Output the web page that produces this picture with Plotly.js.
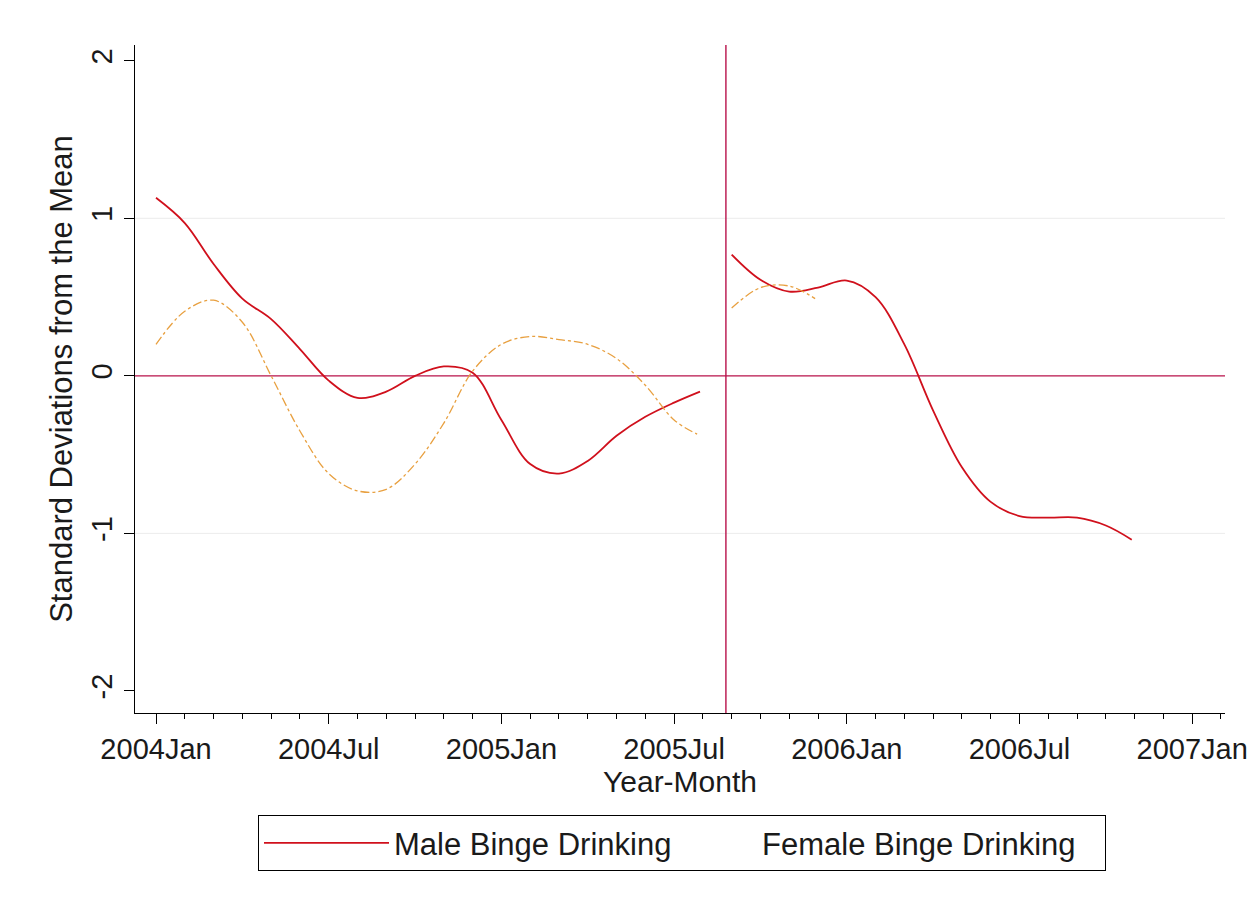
<!DOCTYPE html>
<html>
<head>
<meta charset="utf-8">
<script src="https://cdn.plot.ly/plotly-3.0.1.min.js"></script>
<style>html,body{margin:0;padding:0;background:#fff;}#chart{width:1257px;height:909px;}</style>
</head>
<body>
<div id="chart"></div>
<script>
// Month index: 0 = 2004Jan
const maleMonths1 = [0,1,2,3,4,5,6,7,8,9,10,11,12,13,14,15,16,17,18,18.9];
const maleValues1 = [1.13,0.97,0.71,0.49,0.36,0.17,-0.03,-0.14,-0.10,0.00,0.06,0.02,-0.28,-0.56,-0.62,-0.54,-0.38,-0.26,-0.17,-0.10];
const maleMonths2 = [20,21,22,23,24,25,26,27,28,29,30,31,32,33,33.9];
const maleValues2 = [0.77,0.61,0.535,0.56,0.605,0.50,0.20,-0.22,-0.58,-0.80,-0.89,-0.90,-0.90,-0.95,-1.04];
const femaleMonths1 = [0,1,2,3,4,5,6,7,8,9,10,11,12,13,14,15,16,17,18,18.8];
const femaleValues1 = [0.20,0.41,0.48,0.34,0.00,-0.35,-0.62,-0.73,-0.72,-0.56,-0.30,0.03,0.20,0.25,0.23,0.20,0.11,-0.06,-0.28,-0.37];
const femaleMonths2 = [20,21,22,22.9];
const femaleValues2 = [0.43,0.56,0.57,0.49];
const breakMonth = 19.8;
const xTickVals = [0,6,12,18,24,30,36];
const xTickText = ["2004Jan","2004Jul","2005Jan","2005Jul","2006Jan","2006Jul","2007Jan"];
const yTickVals = [-2,-1,0,1,2];
const seriesNames = ['Male Binge Drinking', 'Female Binge Drinking'];

const maleColor = '#d0101c';
const femaleColor = '#e8a040';
const refColor = '#b8124a';

function seg(x, y, name, color, dash, show, lw) {
  return {x: x, y: y, type: 'scatter', mode: 'lines', name: name, showlegend: show,
    legendgroup: name, legendwidth: lw,
    line: {color: color, width: dash === 'solid' ? 1.8 : 1.3, dash: dash, shape: 'spline', smoothing: 1}};
}
const traces = [
  seg(maleMonths1, maleValues1, seriesNames[0], maleColor, 'solid', true, 228),
  seg(maleMonths2, maleValues2, seriesNames[0], maleColor, 'solid', false),
  seg(femaleMonths1, femaleValues1, seriesNames[1], femaleColor, 'dashdot', false),
  seg(femaleMonths2, femaleValues2, seriesNames[1], femaleColor, 'dashdot', false),
  // legend entry for female (the reference legend shows no visible sample for it)
  {x: [null], y: [null], type: 'scatter', mode: 'lines', name: seriesNames[1], showlegend: true,
   legendgroup: seriesNames[1], legendwidth: 338, line: {color: 'rgba(0,0,0,0)', width: 1}}
];

const fam = 'Liberation Sans, Arial, sans-serif';
const tickFont = {family: fam, size: 29, color: '#1a1a1a'};
const titleFont = {family: fam, size: 30, color: '#1a1a1a'};
const yTitleFont = {family: fam, size: 31, color: '#1a1a1a'};
const legendFont = {family: fam, size: 31, color: '#1a1a1a'};
const layout = {
  width: 1257, height: 909,
  paper_bgcolor: '#fff', plot_bgcolor: '#fff',
  margin: {l: 135, r: 32, t: 45, b: 196},
  font: titleFont,
  showlegend: true,
  legend: {orientation: 'h', x: (258 - 135) / 1090, xanchor: 'left', y: -0.153, yanchor: 'top',
    bordercolor: '#000', borderwidth: 1, font: legendFont,
    itemwidth: 125, traceorder: 'normal', tracegroupgap: 0},
  xaxis: {range: [-0.73, 37.14], tickmode: 'array', tickvals: xTickVals, ticktext: xTickText,
    showgrid: false, zeroline: false, showline: true, linecolor: '#000', linewidth: 1,
    ticks: 'outside', ticklen: 10, tickcolor: '#000', tickfont: tickFont,
    minor: {tickmode: 'linear', tick0: 0, dtick: 1, ticks: 'outside', ticklen: 5, tickcolor: '#000', showgrid: false},
    title: {text: 'Year-Month', font: titleFont, standoff: 0}},
  yaxis: {range: [-2.14, 2.10], tickmode: 'array', tickvals: yTickVals, ticktext: yTickVals.map(String),
    showgrid: false, zeroline: false, showline: true, linecolor: '#000', linewidth: 1,
    ticks: 'outside', ticklen: 10, tickcolor: '#000', tickangle: -90, tickfont: tickFont,
    title: {text: 'Standard Deviations from the Mean', font: yTitleFont, standoff: 4}},
  shapes: [
    {type: 'line', xref: 'paper', x0: 0, x1: 1, yref: 'y', y0: 1, y1: 1, line: {color: '#ececec', width: 1}, layer: 'below'},
    {type: 'line', xref: 'paper', x0: 0, x1: 1, yref: 'y', y0: -1, y1: -1, line: {color: '#ececec', width: 1}, layer: 'below'},
    {type: 'line', xref: 'paper', x0: 0, x1: 1, yref: 'y', y0: 0, y1: 0, line: {color: refColor, width: 1.4}, layer: 'below'},
    {type: 'line', xref: 'x', x0: breakMonth, x1: breakMonth, yref: 'paper', y0: 0, y1: 1, line: {color: refColor, width: 1.4}, layer: 'below'}
  ]
};
Plotly.newPlot('chart', traces, layout, {displayModeBar: false, staticPlot: true});
</script>
</body>
</html>
